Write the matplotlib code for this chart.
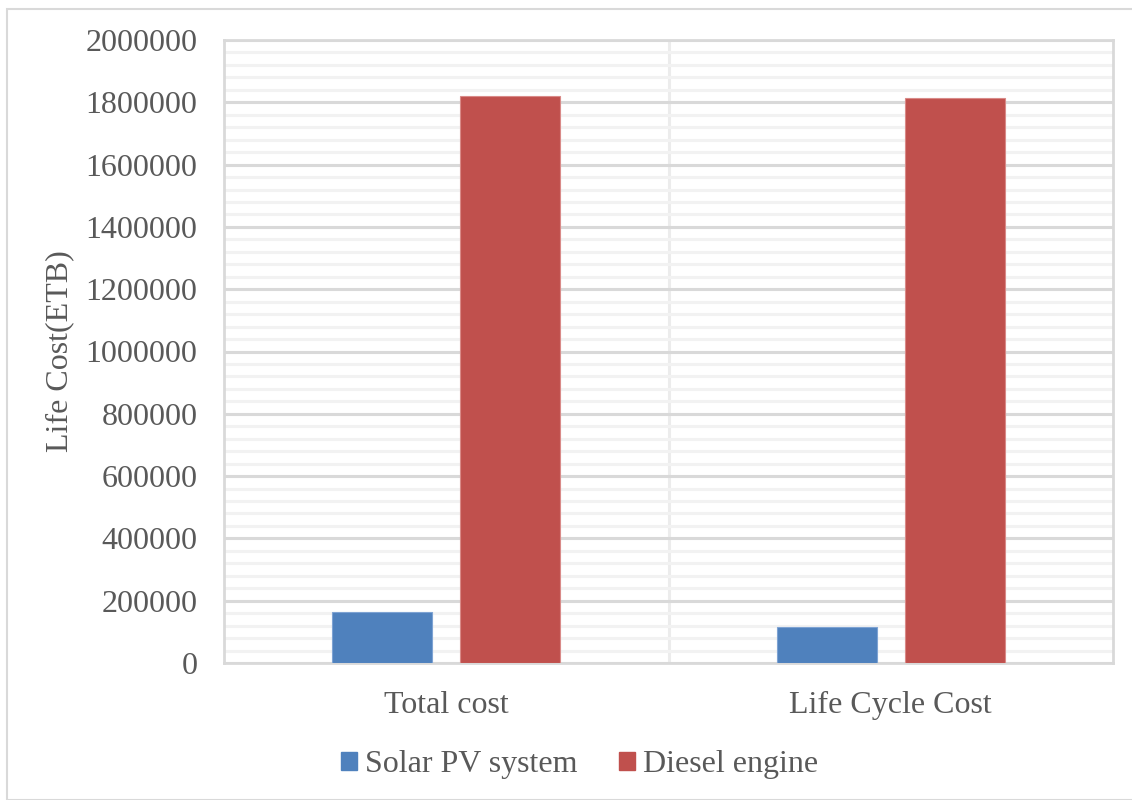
import matplotlib.pyplot as plt
import numpy as np
from matplotlib.patches import Patch, Rectangle
from matplotlib.ticker import MultipleLocator

categories = ['Total cost', 'Life Cycle Cost']
series_names = ['Solar PV system', 'Diesel engine']
solar = [163000, 116000]
diesel = [1821000, 1814000]
colors = ['#4f81bd', '#c0504d']

plt.rcParams['font.family'] = ['Liberation Serif', 'DejaVu Serif']
txt = '#595959'

fig = plt.figure(figsize=(11.32, 8), dpi=100)
ax = fig.add_axes([224/1132, 1 - 663/800, (1113 - 224)/1132, (663 - 40)/800])

x = np.arange(len(categories))
w = 0.225
off = 0.1435
ax.bar(x - off, solar, w, color=colors[0], edgecolor='#7ea3d3', linewidth=0.8, zorder=3)
ax.bar(x + off, diesel, w, color=colors[1], edgecolor='#d98a88', linewidth=0.8, zorder=3)

ax.set_xlim(-0.5, len(categories) - 0.5)
ax.set_ylim(0, 2000000)
ax.yaxis.set_major_locator(MultipleLocator(200000))
ax.yaxis.set_minor_locator(MultipleLocator(40000))
ax.grid(which='minor', axis='y', color='#f2f2f2', linewidth=2.2, zorder=0)
ax.grid(which='major', axis='y', color='#d9d9d9', linewidth=2.2, zorder=1)
for b in np.arange(0.5, len(categories) - 0.5, 1):
    ax.axvline(b, color='#ececec', linewidth=2.2, zorder=0)

ax.set_xticks(x)
ax.set_xticklabels(categories)
ax.tick_params(axis='both', which='both', length=0, labelsize=23, labelcolor=txt)
ax.tick_params(axis='y', pad=19)
ax.tick_params(axis='x', pad=20)
ax.yaxis.set_major_formatter(plt.FuncFormatter(lambda v, p: '%d' % v))
for s in ax.spines.values():
    s.set_color('#d9d9d9')
    s.set_linewidth(2)
ax.set_ylabel('Life Cost(ETB)', fontsize=23, color=txt, labelpad=8)

handles = [Patch(color=c) for c in colors]
fig.legend(handles, series_names, loc='center', bbox_to_anchor=(0.512, 0.044), ncol=2,
           frameon=False, fontsize=23, labelcolor=txt, handlelength=0.5, handleheight=0.5,
           handletextpad=0.25, columnspacing=1.3)

fig.patches.append(Rectangle((7/1132, 0), 1.2, 1 - 9/800, transform=fig.transFigure,
                             fill=False, edgecolor='#d9d9d9', linewidth=1.5))

fig.savefig('out.png', dpi=100)
